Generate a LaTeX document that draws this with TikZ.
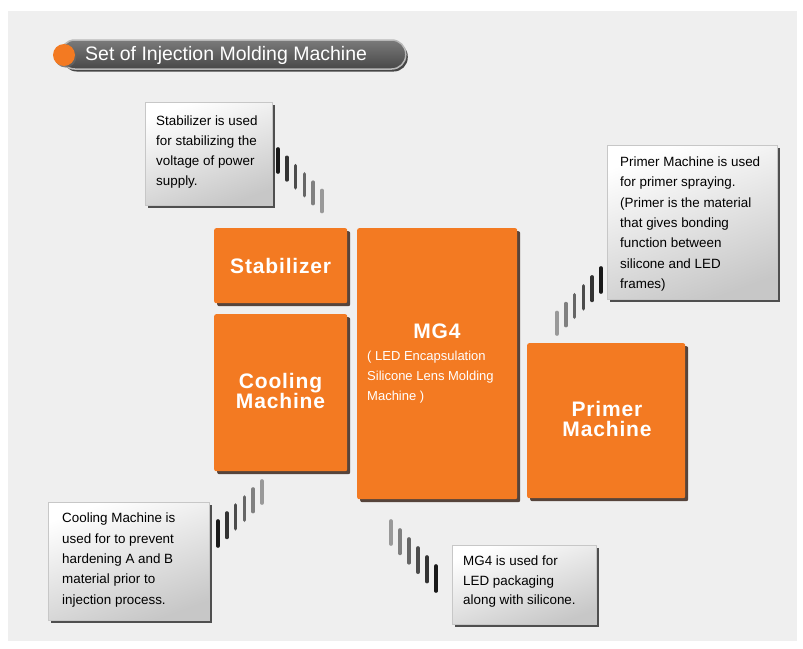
\documentclass[tikz,border=0pt]{standalone}
\usepackage{fontspec}
\setmainfont{Liberation Sans}
\newfontfamily\boxfont[LetterSpace=4]{Liberation Sans}
\usetikzlibrary{shadows,calc}
\definecolor{orng}{RGB}{243,122,34}
\definecolor{panel}{RGB}{239,239,239}
\definecolor{oshad}{RGB}{70,50,40}
\tikzset{
  obox/.style={anchor=north west, fill=orng, rounded corners=2pt, inner sep=0pt,
    drop shadow={shadow xshift=3pt, shadow yshift=-3pt, fill=oshad, opacity=0.9}},
  olabel/.style={text=white, align=center, inner sep=0pt,
    font=\boxfont\bfseries\fontsize{21}{20}\selectfont},
  dbox/.style={anchor=north west, draw=black!22, line width=0.6pt, inner sep=0pt,
    top color=white, bottom color=black!22, shading angle=20,
    drop shadow={shadow xshift=3pt, shadow yshift=-3pt, fill=black!80, opacity=0.85}},
  dtext/.style={anchor=west, align=left, inner sep=0pt, text=black,
    font=\fontsize{13.4}{20.3}\selectfont},
  hbar/.style={line width=3.6pt, line cap=round},
}
\begin{document}
\begin{tikzpicture}[x=1pt,y=-1pt]
\useasboundingbox (0,0) rectangle (803,648);
\fill[white] (0,0) rectangle (803,648);
\fill[panel] (8,11) rectangle (797,641);

% title pill
\node[anchor=west, minimum width=345pt, minimum height=29pt, rounded corners=14pt,
  top color=black!52, bottom color=black!72, draw=black!28, line width=1.5pt, inner sep=0pt,
  drop shadow={shadow xshift=2pt, shadow yshift=-2.5pt, fill=black!80, opacity=0.9}] (pill) at (60,54.5) {};
\node[circle, fill=orng, minimum size=22pt, inner sep=0pt,
  drop shadow={shadow xshift=1.5pt, shadow yshift=-1.5pt, fill=black!60, opacity=0.8}] (dot) at (64,55) {};
\node[anchor=west, text=white, inner sep=0pt, font=\fontsize{19.5}{19}\selectfont] (ttl) at (85,55) {Set of Injection Molding Machine};

% orange machine boxes
\node[obox, minimum width=133pt, minimum height=75pt] (stab) at (214,228) {};
\node[olabel] (stabl) at (stab.center) {Stabilizer};
\node[obox, minimum width=133pt, minimum height=157pt] (cool) at (214,314) {};
\node[olabel] (cooll) at (280.5,391) {Cooling\\Machine};
\node[obox, minimum width=160pt, minimum height=271pt] (mg) at (357,228) {};
\node[olabel] (mgl) at (437,331) {MG4};
\node[anchor=west, align=left, inner sep=0pt, text=white, font=\fontsize{13}{20}\selectfont] (mgs) at (367,377)
  {( LED Encapsulation\\Silicone Lens Molding\\Machine )};
\node[obox, minimum width=158pt, minimum height=155pt] (prim) at (527,343) {};
\node[olabel] (priml) at (607,419) {Primer\\Machine};

% description boxes
\node[dbox, minimum width=127pt, minimum height=103pt] (dstab) at (145,102) {};
\node[dtext] (tstab) at (156,152) {Stabilizer is used\\for stabilizing the\\voltage of power\\supply.};
\node[dbox, minimum width=170pt, minimum height=154pt] (dprim) at (607,145) {};
\node[dtext] (tprim) at (620,224) {Primer Machine is used\\for primer spraying.\\(Primer is the material\\that gives bonding\\function between\\silicone and LED\\frames)};
\node[dbox, minimum width=161pt, minimum height=118pt] (dcool) at (48,502) {};
\node[dtext] (tcool) at (62,560) {Cooling Machine is\\used for to prevent\\hardening A and B\\material prior to\\injection process.};
\node[dbox, minimum width=144pt, minimum height=79pt] (dmg) at (452,545) {};
\node[dtext, font=\fontsize{13.4}{19.5}\selectfont] (tmg) at (463,582) {MG4 is used for\\LED packaging\\along with silicone.};

% hatch connectors
\foreach \i in {0,...,5} {
  \pgfmathtruncatemacro\c{90-\i*10}
  \draw[hbar, black!\c] (278+8.8*\i, 149+8.3*\i) -- ++(0, 23-0.4*\i);
  \draw[hbar, black!\c] (601-8.8*\i, 268+8.9*\i) -- ++(0, 24-0.5*\i);
  \draw[hbar, black!\c] (218+8.8*\i, 521-8*\i) -- ++(0, 25-0.6*\i);
  \draw[hbar, black!\c] (436-9*\i, 566-9*\i) -- ++(0, 25-0.4*\i);
}
\end{tikzpicture}
\end{document}
